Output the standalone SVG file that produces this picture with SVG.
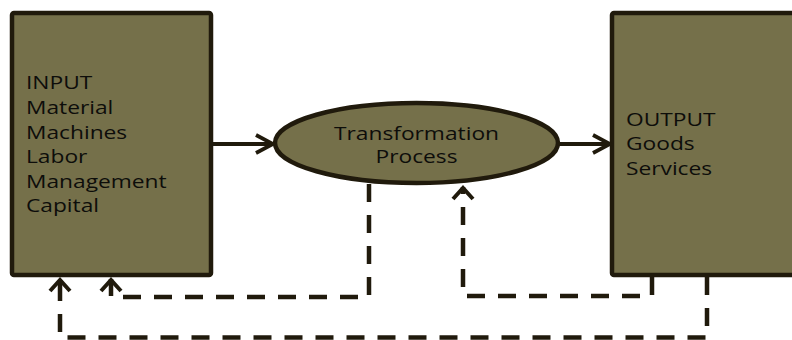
<svg xmlns="http://www.w3.org/2000/svg" width="792" height="340" viewBox="0 0 792 340">
  <defs>
    <style>
      .box { fill: #75704A; stroke: #201A0C; stroke-width: 4.5; }
      .lbl { font-family: "Open Sans", "DejaVu Sans", sans-serif; font-size: 18.5px; fill: #0d0d0a; }
      .flow { fill: none; stroke: #201A0C; stroke-width: 4; }
      .back { fill: none; stroke: #201A0C; stroke-width: 4.5; stroke-dasharray: 18 13; }
    </style>
    <marker id="chev" viewBox="0 0 22 22" refX="20" refY="11" markerWidth="22" markerHeight="22" markerUnits="userSpaceOnUse" orient="auto">
      <path d="M3 2 L20 11 L3 20" fill="none" stroke="#201A0C" stroke-width="3.8"/>
    </marker>
    <marker id="chevUp" viewBox="0 0 24 16" refX="12" refY="2" markerWidth="24" markerHeight="16" markerUnits="userSpaceOnUse" orient="0">
      <path d="M2 14 L12 3 L22 14" fill="none" stroke="#201A0C" stroke-width="4"/>
    </marker>
  </defs>

  <g id="input">
    <rect class="box" x="12" y="13" width="199" height="262" rx="2"/>
    <g class="lbl" transform="translate(26 0) scale(1.23 1)">
      <text x="0" y="89">INPUT</text>
      <text x="0" y="114">Material</text>
      <text x="0" y="139">Machines</text>
      <text x="0" y="163.5">Labor</text>
      <text x="0" y="188">Management</text>
      <text x="0" y="212.5">Capital</text>
    </g>
  </g>

  <g id="transformation">
    <ellipse class="box" cx="416.5" cy="143" rx="141.5" ry="40"/>
    <g class="lbl" transform="translate(416.5 0) scale(1.23 1)" text-anchor="middle">
      <text x="0" y="140">Transformation</text>
      <text x="0" y="163">Process</text>
    </g>
  </g>

  <g id="output">
    <rect class="box" x="612" y="13" width="190" height="262" rx="2"/>
    <g class="lbl" transform="translate(626 0) scale(1.23 1)">
      <text x="0" y="126">OUTPUT</text>
      <text x="0" y="150.5">Goods</text>
      <text x="0" y="175">Services</text>
    </g>
  </g>

  <g id="connectors">
    <path class="flow" d="M211 144 H273" marker-end="url(#chev)"/>
    <path class="flow" d="M558 144 H610" marker-end="url(#chev)"/>
    <path class="back" d="M369 184 V297 H111 V279" marker-end="url(#chevUp)"/>
    <path class="back" d="M652 277 V296 H463 V187" marker-end="url(#chevUp)"/>
    <path class="back" d="M707 277 V337.5 H60 V279" marker-end="url(#chevUp)"/>
  </g>
</svg>
